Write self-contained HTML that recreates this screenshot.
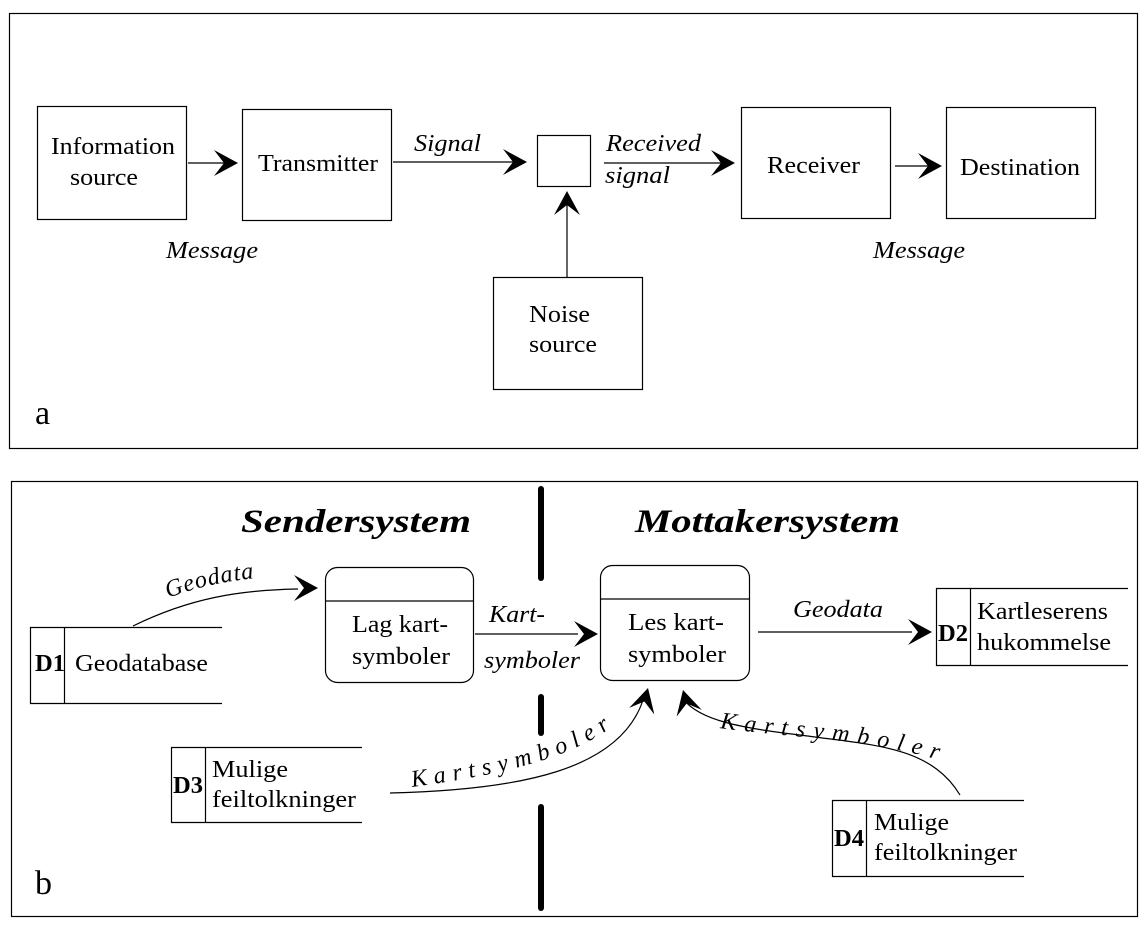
<!DOCTYPE html>
<html><head><meta charset="utf-8"><style>
html,body{margin:0;padding:0;background:#fff;}
svg{display:block;font-family:"Liberation Serif",serif;}
</style></head><body>
<svg width="1148" height="931" viewBox="0 0 1148 931" xmlns="http://www.w3.org/2000/svg">
<defs>
<path id="ah" d="M0,0 L-24,-13 L-14,0 L-24,13 Z" fill="#000"/>
<path id="cur1" d="M412,787 C500,775 575,758 618,722" fill="none"/>
<path id="cur2" d="M720,728 C790,738 870,738 945,762" fill="none"/>
<path id="cur3" d="M168,598 C200,586 230,580 268,577" fill="none"/>
</defs>
<g fill="none" stroke="#000" stroke-width="1.2">
<rect x="9.5" y="13.5" width="1128" height="435"/>
<rect x="37.5" y="106.5" width="149" height="113"/>
<rect x="242.5" y="109.5" width="149" height="111"/>
<rect x="537.5" y="135.5" width="53" height="51"/>
<rect x="741.5" y="107.5" width="149" height="111"/>
<rect x="946.5" y="107.5" width="149" height="111"/>
<rect x="493.5" y="277.5" width="149" height="112"/>
<line x1="188" y1="163" x2="236" y2="163"/>
<line x1="393" y1="162" x2="525" y2="162"/>
<line x1="604" y1="163" x2="733" y2="163"/>
<line x1="895" y1="166" x2="940" y2="166"/>
<line x1="567" y1="277" x2="567" y2="194"/>
<rect x="11.5" y="481.5" width="1126" height="435"/>
</g>
<use href="#ah" transform="translate(238,163)"/>
<use href="#ah" transform="translate(527,162)"/>
<use href="#ah" transform="translate(735,163)"/>
<use href="#ah" transform="translate(942,166)"/>
<use href="#ah" transform="translate(567,191) rotate(-90)"/>
<g font-size="24" fill="#000">
<text x="51" y="154" textLength="124" lengthAdjust="spacingAndGlyphs">Information</text><text x="70" y="185" textLength="68" lengthAdjust="spacingAndGlyphs">source</text>
<text x="258" y="171" textLength="120" lengthAdjust="spacingAndGlyphs">Transmitter</text>
<text x="767" y="173" textLength="93" lengthAdjust="spacingAndGlyphs">Receiver</text>
<text x="960" y="175" textLength="120" lengthAdjust="spacingAndGlyphs">Destination</text>
<text x="529" y="322" textLength="61" lengthAdjust="spacingAndGlyphs">Noise</text><text x="529" y="352" textLength="68" lengthAdjust="spacingAndGlyphs">source</text>
<g font-style="italic">
<text x="414" y="151" textLength="67" lengthAdjust="spacingAndGlyphs">Signal</text>
<text x="606" y="151" textLength="95" lengthAdjust="spacingAndGlyphs">Received</text><text x="605" y="183" textLength="65" lengthAdjust="spacingAndGlyphs">signal</text>
<text x="166" y="258" textLength="92" lengthAdjust="spacingAndGlyphs">Message</text><text x="873" y="258" textLength="92" lengthAdjust="spacingAndGlyphs">Message</text>
</g>
</g>
<text x="35" y="424" font-size="34">a</text>
<text x="35" y="894" font-size="34">b</text>
<g stroke="#000" stroke-width="6" stroke-linecap="round">
<line x1="541" y1="489" x2="541" y2="578"/>
<line x1="541" y1="697" x2="541" y2="733"/>
<line x1="541" y1="807" x2="541" y2="908"/>
</g>
<g font-size="33" font-weight="bold" font-style="italic">
<text x="241" y="532" textLength="230" lengthAdjust="spacingAndGlyphs">Sendersystem</text>
<text x="635" y="532" textLength="265" lengthAdjust="spacingAndGlyphs">Mottakersystem</text>
</g>
<g fill="none" stroke="#000" stroke-width="1.2">
<rect x="325.5" y="567.5" width="148" height="115" rx="12"/><line x1="326" y1="601" x2="473" y2="601"/>
<rect x="600.5" y="565.5" width="149" height="115" rx="12"/><line x1="601" y1="599" x2="749" y2="599"/>
<path d="M222,627.5 H30.5 V703.5 H222 M64.5,627 V703"/>
<path d="M1128,588.5 H936.5 V665.5 H1128 M970.5,588 V665"/>
<path d="M362,747.5 H171.5 V822.5 H362 M205.5,747 V822"/>
<path d="M1024,800.5 H832.5 V876.5 H1024 M866.5,800 V876"/>
<path d="M133,626 C190,598 240,590 298,589"/>
<line x1="475" y1="634" x2="578" y2="634"/>
<line x1="758" y1="632" x2="912" y2="632"/>
<path d="M390,793 C520,790 620,770 643,700"/>
<path d="M960,795 C930,745 870,745 800,735 C740,728 700,720 684,700"/>
</g>
<use href="#ah" transform="translate(318,588)"/>
<use href="#ah" transform="translate(598,634)"/>
<use href="#ah" transform="translate(932,632)"/>
<use href="#ah" transform="translate(648,688) rotate(-75)"/>
<use href="#ah" transform="translate(683,690) rotate(-105)"/>
<g font-size="24" fill="#000">
<text x="35" y="671" font-weight="bold" textLength="30" lengthAdjust="spacingAndGlyphs">D1</text><text x="75" y="671" textLength="133" lengthAdjust="spacingAndGlyphs">Geodatabase</text>
<text x="938" y="641" font-weight="bold" textLength="30" lengthAdjust="spacingAndGlyphs">D2</text><text x="977" y="619" textLength="131" lengthAdjust="spacingAndGlyphs">Kartleserens</text><text x="977" y="650" textLength="134" lengthAdjust="spacingAndGlyphs">hukommelse</text>
<text x="173" y="793" font-weight="bold" textLength="30" lengthAdjust="spacingAndGlyphs">D3</text><text x="212" y="777" textLength="76" lengthAdjust="spacingAndGlyphs">Mulige</text><text x="212" y="807" textLength="144" lengthAdjust="spacingAndGlyphs">feiltolkninger</text>
<text x="834" y="846" font-weight="bold" textLength="30" lengthAdjust="spacingAndGlyphs">D4</text><text x="874" y="830" textLength="75" lengthAdjust="spacingAndGlyphs">Mulige</text><text x="874" y="860" textLength="143" lengthAdjust="spacingAndGlyphs">feiltolkninger</text>
<text x="352" y="632" textLength="96" lengthAdjust="spacingAndGlyphs">Lag kart-</text>
<text x="352" y="664" textLength="98" lengthAdjust="spacingAndGlyphs">symboler</text>
<text x="628" y="630" textLength="96" lengthAdjust="spacingAndGlyphs">Les kart-</text>
<text x="628" y="662" textLength="98" lengthAdjust="spacingAndGlyphs">symboler</text>
<g font-style="italic">
<text x="489" y="622" textLength="56" lengthAdjust="spacingAndGlyphs">Kart-</text>
<text x="484" y="668" textLength="96" lengthAdjust="spacingAndGlyphs">symboler</text>
<text x="793" y="617" textLength="90" lengthAdjust="spacingAndGlyphs">Geodata</text>
</g>
</g>
<g font-size="24" font-style="italic" fill="#000">
<text letter-spacing="1"><textPath href="#cur3">Geodata</textPath></text>
<text letter-spacing="7"><textPath href="#cur1">Kartsymboler</textPath></text>
<text letter-spacing="8"><textPath href="#cur2">Kartsymboler</textPath></text>
</g>
</svg>
</body></html>
